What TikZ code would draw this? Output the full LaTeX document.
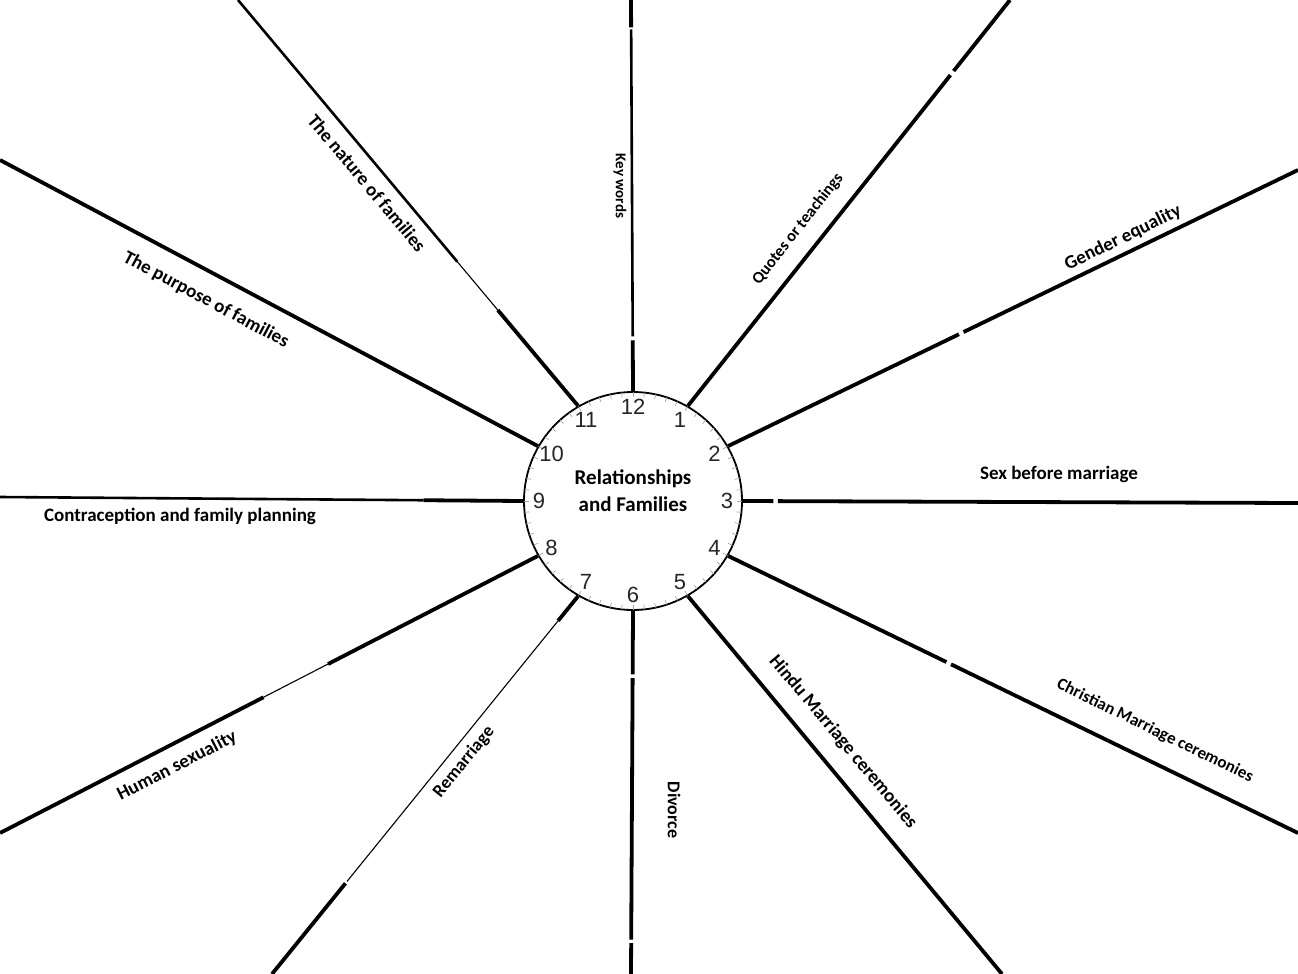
\documentclass[tikz,border=0pt]{standalone}
\usepackage{fontspec}
\setmainfont{Carlito}
\newfontfamily\clockfont{Liberation Sans}
\usetikzlibrary{calc}

\begin{document}
\begin{tikzpicture}[x=1pt,y=-1pt,
    spoke/.style={line width=3.8pt},
    midspoke/.style={line width=2.6pt},
    thinspoke/.style={line width=1.1pt},
    tick/.style={line width=0.7pt,gray!70},
    hour/.style={font=\clockfont\fontsize{22}{22}\selectfont,text=black!85,inner sep=0pt},
    topic/.style={font=\bfseries\fontsize{19}{19}\selectfont,inner sep=0pt}]
  \useasboundingbox (0,0) rectangle (1298,974);
  \node[circle,draw,line width=1.8pt,minimum size=218pt,inner sep=0pt] (clock) at (633,501) {};
  \node[topic,font=\bfseries\fontsize{21}{27}\selectfont,align=center] (title) at (633,491) {Relationships\\and Families};
  % minute marks and hours
  \foreach \m in {0,...,59}
    \draw[tick] ([shift={(\m*6:109)}]clock.center) -- ([shift={(\m*6:104)}]clock.center);
  \foreach \h in {1,...,12}
    \node[hour] (n\h) at ([shift={(\h*30-90:94)}]clock.center) {\h};
  % free ends of the spokes
  \coordinate (h12) at (631,0);
  \coordinate (h1) at (1010,0);
  \coordinate (h2) at (1298,170);
  \coordinate (h3) at (1298,503);
  \coordinate (h4) at (1298,833);
  \coordinate (h5) at (1002,974);
  \coordinate (h6) at (631,974);
  \coordinate (h7) at (272,974);
  \coordinate (h8) at (0,833);
  \coordinate (h9) at (0,497);
  \coordinate (h10) at (0,160);
  \coordinate (h11) at (238,0);
  % spokes
  \draw[spoke] (clock.90) -- ($(clock.90)!.13!(h12)$);
  \draw[midspoke] ($(clock.90)!.14!(h12)$) -- ($(clock.90)!.925!(h12)$);
  \draw[spoke] ($(clock.90)!.93!(h12)$) -- (h12);
  \draw[spoke] (clock.60) -- ($(clock.60)!.815!(h1)$) ($(clock.60)!.825!(h1)$) -- (h1);
  \draw[spoke] (clock.30) -- ($(clock.30)!.405!(h2)$) ($(clock.30)!.413!(h2)$) -- (h2);
  \draw[spoke] (clock.0) -- ($(clock.0)!.055!(h3)$) ($(clock.0)!.063!(h3)$) -- (h3);
  \draw[spoke] (clock.-30) -- ($(clock.-30)!.383!(h4)$) ($(clock.-30)!.391!(h4)$) -- (h4);
  \draw[spoke] (clock.-60) -- (h5);
  \draw[spoke] (clock.-90) -- ($(clock.-90)!.175!(h6)$) ($(clock.-90)!.185!(h6)$) -- ($(clock.-90)!.905!(h6)$) ($(clock.-90)!.915!(h6)$) -- (h6);
  \draw[spoke] (clock.-120) -- ($(clock.-120)!.065!(h7)$);
  \draw[thinspoke] ($(clock.-120)!.065!(h7)$) -- ($(clock.-120)!.755!(h7)$);
  \draw[spoke] ($(clock.-120)!.76!(h7)$) -- (h7);
  \draw[spoke] (clock.-150) -- ($(clock.-150)!.39!(h8)$);
  \draw[thinspoke] ($(clock.-150)!.39!(h8)$) -- ($(clock.-150)!.51!(h8)$);
  \draw[spoke] ($(clock.-150)!.51!(h8)$) -- (h8);
  \draw[spoke] (clock.180) -- ($(clock.180)!.19!(h9)$);
  \draw[midspoke] ($(clock.180)!.19!(h9)$) -- (h9);
  \draw[spoke] (clock.150) -- (h10);
  \draw[spoke] (clock.120) -- ($(clock.120)!.236!(h11)$);
  \draw[thinspoke] ($(clock.120)!.236!(h11)$) -- ($(clock.120)!.355!(h11)$);
  \draw[midspoke] ($(clock.120)!.355!(h11)$) -- (h11);
  % topics
  \node[topic,font=\bfseries\fontsize{15}{15}\selectfont,rotate=-90] (keywords) at (620,186) {Key words};
  \node[topic,font=\bfseries\fontsize{16.5}{16.5}\selectfont,rotate=52] (quotes) at (798,229) {Quotes or teachings};
  \node[topic,rotate=26] (gender) at (1123,238) {Gender equality};
  \node[topic] (sex) at (1059,474) {Sex before marriage};
  \node[topic,font=\bfseries\fontsize{17}{17}\selectfont,rotate=-26] (christian) at (1155,731) {Christian Marriage ceremonies};
  \node[topic,rotate=-50] (hindu) at (843,742) {Hindu Marriage ceremonies};
  \node[topic,font=\bfseries\fontsize{18}{18}\selectfont,rotate=-90] (divorce) at (674,810) {Divorce};
  \node[topic,font=\bfseries\fontsize{18}{18}\selectfont,rotate=51] (remarriage) at (464,762) {Remarriage};
  \node[topic,rotate=27] (sexuality) at (177,766) {Human sexuality};
  \node[topic] (contraception) at (180,516) {Contraception and family planning};
  \node[topic,rotate=-28] (purpose) at (206,300) {The purpose of families};
  \node[topic,rotate=-50] (nature) at (367,183) {The nature of families};
\end{tikzpicture}
\end{document}
